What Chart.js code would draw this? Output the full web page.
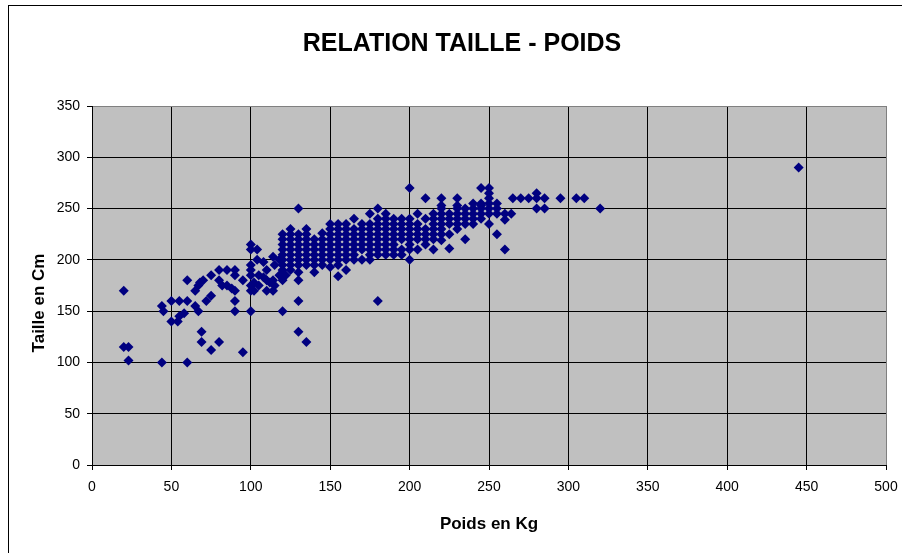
<!DOCTYPE html>
<html>
<head>
<meta charset="utf-8">
<title>Relation taille - poids</title>
<script src="https://cdn.jsdelivr.net/npm/chart.js@4"></script>
<style>
  body { margin: 0; background: #fff; }
  #wrap { width: 902px; height: 553px; position: relative; }
</style>
</head>
<body>
<div id="wrap"><canvas id="tailleChart"></canvas></div>
<script>
// Poids (kg) et taille (cm), colonne par colonne
const poids = [
  20, 20, 23, 23, 44, 44, 45, 50, 50, 54, 55, 55, 58, 60, 60, 60,
  65, 65, 67, 67, 68, 69, 69, 70, 72, 75, 75, 75, 80, 80, 80, 82, 85, 85, 88,
  90, 90, 90, 90, 90, 95, 95,
  100, 100, 100, 100, 100, 100, 100, 100, 102, 102, 104, 104, 105, 105,
  108, 108, 110, 110, 110, 112, 114, 114, 114, 115, 115, 118, 118,
  120, 120, 120, 120, 120, 120, 120, 120, 120, 120, 122,
  125, 125, 125, 125, 125, 125, 125, 125, 125,
  130, 130, 130, 130, 130, 130, 130, 130, 130, 130, 130, 130,
  135, 135, 135, 135, 135, 135, 135, 135, 135,
  140, 140, 140, 140, 140, 140, 140,
  145, 145, 145, 145, 145, 145, 145,
  150, 150, 150, 150, 150, 150, 150, 150, 150,
  155, 155, 155, 155, 155, 155, 155, 155, 155, 155,
  160, 160, 160, 160, 160, 160, 160, 160, 160,
  165, 165, 165, 165, 165, 165, 165, 165,
  170, 170, 170, 170, 170, 170, 170,
  175, 175, 175, 175, 175, 175, 175, 175, 175,
  180, 180, 180, 180, 180, 180, 180, 180, 180, 180,
  185, 185, 185, 185, 185, 185, 185, 185, 185,
  190, 190, 190, 190, 190, 190, 190, 190,
  195, 195, 195, 195, 195, 195, 195,
  200, 200, 200, 200, 200, 200, 200, 200, 200,
  205, 205, 205, 205, 205, 205,
  210, 210, 210, 210, 210, 210,
  215, 215, 215, 215, 215, 215, 215,
  220, 220, 220, 220, 220, 220, 220, 220, 220,
  225, 225, 225, 225, 225,
  230, 230, 230, 230, 230, 230, 230,
  235, 235, 235, 235, 235,
  240, 240, 240, 240, 240,
  245, 245, 245, 245, 245, 245,
  250, 250, 250, 250, 250, 250, 250,
  255, 255, 255, 255,
  260, 260, 260, 264, 265, 270, 275, 280, 280, 280, 285, 285,
  295, 305, 310, 320, 445
];
const taille = [
  170, 115, 115, 102, 100, 155, 150, 160, 140, 140, 160, 145, 148, 100, 160, 180,
  155, 170, 150, 175, 178, 130, 120, 180, 160, 112, 185, 165, 120, 190, 180, 175, 190, 175, 172,
  190, 185, 170, 160, 150, 110, 180,
  150, 215, 210, 195, 190, 185, 175, 170, 170, 178, 210, 200, 175, 185,
  198, 183, 170, 190, 180, 178, 203, 170, 180, 175, 195, 200, 185,
  150, 180, 190, 195, 200, 205, 210, 215, 220, 225, 185,
  190, 195, 200, 205, 210, 215, 220, 225, 230,
  250, 160, 130, 180, 188, 195, 200, 205, 210, 215, 220, 225,
  120, 195, 200, 205, 210, 215, 220, 225, 230,
  188, 195, 200, 205, 210, 215, 220,
  195, 200, 205, 210, 215, 220, 226,
  193, 200, 205, 210, 215, 220, 225, 230, 235,
  184, 195, 200, 205, 210, 215, 220, 225, 230, 235,
  190, 200, 205, 210, 215, 220, 225, 230, 235,
  200, 205, 210, 215, 220, 225, 230, 240,
  200, 210, 215, 220, 225, 230, 235,
  200, 205, 210, 215, 220, 225, 230, 235, 245,
  160, 205, 210, 215, 220, 225, 230, 235, 240, 250,
  205, 210, 215, 220, 225, 230, 235, 240, 245,
  205, 210, 215, 220, 225, 230, 235, 240,
  205, 210, 220, 225, 230, 235, 240,
  270, 200, 210, 215, 220, 225, 230, 235, 240,
  210, 220, 225, 230, 235, 245,
  260, 215, 220, 225, 230, 240,
  210, 220, 225, 230, 235, 240, 245,
  260, 253, 219, 225, 230, 235, 240, 245, 250,
  211, 225, 235, 240, 245,
  260, 253, 230, 235, 240, 245, 250,
  220, 235, 240, 245, 250,
  255, 235, 240, 245, 250,
  270, 253, 240, 245, 250, 255,
  270, 265, 235, 245, 250, 255, 260,
  225, 245, 250, 255,
  245, 239, 210, 245, 260, 260, 260, 265, 260, 250, 260, 250,
  260, 260, 260, 250, 290
];

const xMax = 500;
const yMax = 350;

const points = poids.map((p, i) => ({ x: p, y: taille[i] }));

// fond gris, cadre, titres
const decor = {
  id: 'decor',
  beforeDraw(chart) {
    const { ctx, chartArea: a } = chart;
    ctx.save();
    ctx.fillStyle = '#fff';
    ctx.fillRect(0, 0, chart.width, chart.height);
    ctx.fillStyle = '#c0c0c0';
    ctx.fillRect(a.left, a.top, a.right - a.left, a.bottom - a.top);
    ctx.restore();
  },
  afterDraw(chart) {
    const { ctx } = chart;
    ctx.save();
    ctx.strokeStyle = '#000';
    ctx.lineWidth = 1;
    ctx.strokeRect(8.5, 5.5, 1200, 1200);

    ctx.fillStyle = '#000';
    ctx.textAlign = 'center';
    ctx.textBaseline = 'alphabetic';
    ctx.font = 'bold 25px "Liberation Sans", Arial, sans-serif';
    ctx.fillText('RELATION TAILLE - POIDS', 462, 51);

    ctx.font = 'bold 17px "Liberation Sans", Arial, sans-serif';
    ctx.fillText('Poids en Kg', 489, 529);

    ctx.translate(44, 303);
    ctx.rotate(-Math.PI / 2);
    ctx.fillText('Taille en Cm', 0, 0);
    ctx.restore();
  }
};

const tickFont = { family: '"Liberation Sans", Arial, sans-serif', size: 14 };

new Chart(document.getElementById('tailleChart'), {
  type: 'scatter',
  data: {
    datasets: [{
      data: points,
      pointStyle: 'rectRot',
      pointRadius: 5,
      pointBackgroundColor: '#000080',
      pointBorderColor: '#000080',
      pointBorderWidth: 0
    }]
  },
  options: {
    responsive: true,
    maintainAspectRatio: false,
    animation: false,
    layout: { padding: { left: 0, top: 106, right: 16, bottom: 0 } },
    plugins: { legend: { display: false }, tooltip: { enabled: false } },
    scales: {
      x: {
        type: 'linear',
        min: 0,
        max: xMax,
        ticks: { stepSize: 50, color: '#000', font: tickFont, padding: 9, maxRotation: 0 },
        grid: {
          color: c => (c.tick && c.tick.value === xMax ? '#808080' : '#000'),
          tickColor: '#000',
          tickLength: 5
        },
        border: { color: '#000' },
        afterFit(scale) {
          scale.height = 88;
          scale.paddingLeft = 0;
          scale.paddingRight = 0;
        }
      },
      y: {
        min: 0,
        max: yMax,
        ticks: { stepSize: 50, color: '#000', font: tickFont, padding: 7 },
        grid: {
          color: c => (c.tick && c.tick.value === yMax ? '#808080' : '#000'),
          tickColor: '#000',
          tickLength: 5
        },
        border: { color: '#000' },
        afterFit(scale) {
          scale.width = 92;
          scale.paddingTop = 0;
          scale.paddingBottom = 0;
        }
      }
    }
  },
  plugins: [decor]
});
</script>
</body>
</html>
